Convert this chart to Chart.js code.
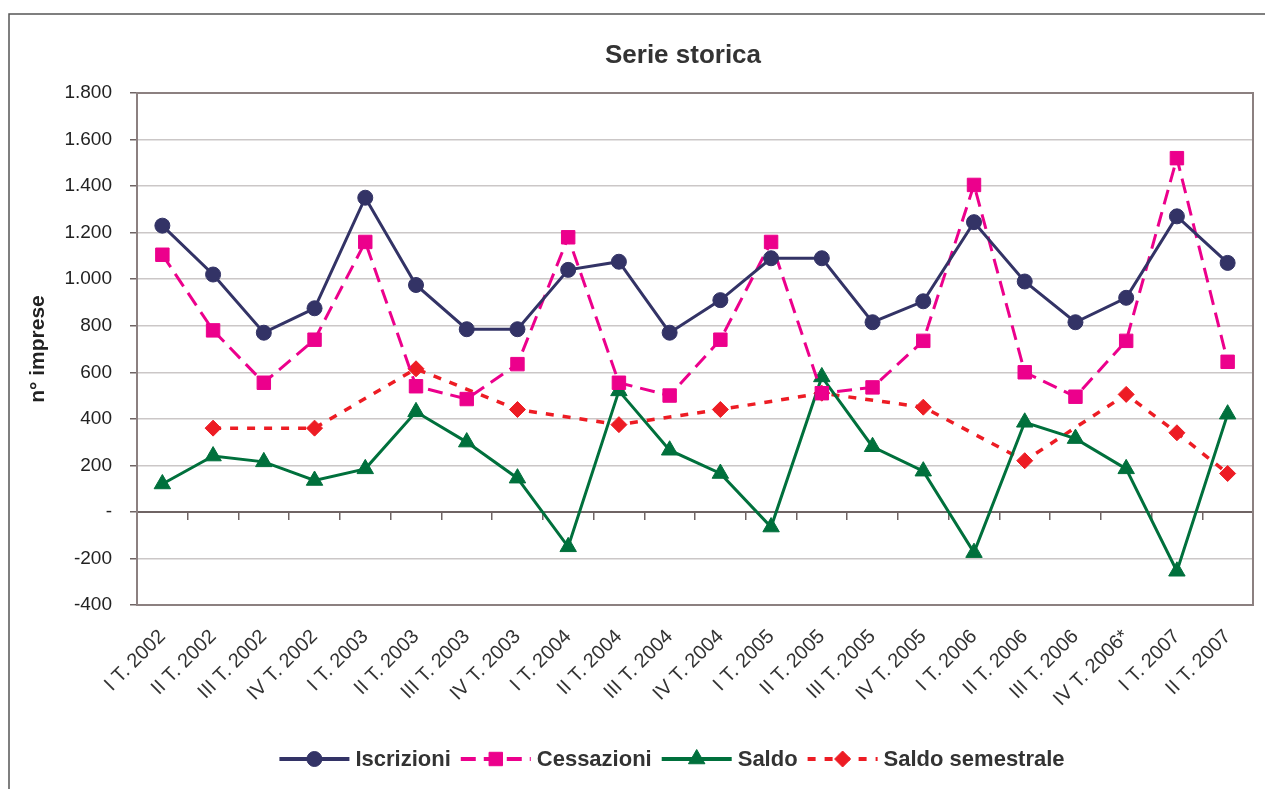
<!DOCTYPE html>
<html>
<head>
<meta charset="utf-8">
<title>Serie storica</title>
<script src="https://cdn.jsdelivr.net/npm/chart.js@4.4.1/dist/chart.umd.min.js"></script>
<style>
  html, body { margin: 0; padding: 0; background: #fff; }
  canvas { display: block; }
</style>
</head>
<body>
<canvas id="serieChart" width="1265" height="789"></canvas>
<script>
const categories = [
  "I T. 2002", "II T. 2002", "III T. 2002", "IV T. 2002",
  "I T. 2003", "II T. 2003", "III T. 2003", "IV T. 2003",
  "I T. 2004", "II T. 2004", "III T. 2004", "IV T. 2004",
  "I T. 2005", "II T. 2005", "III T. 2005", "IV T. 2005",
  "I T. 2006", "II T. 2006", "III T. 2006", "IV T. 2006*",
  "I T. 2007", "II T. 2007"
];
const iscrizioni = [1230, 1020, 770, 875, 1350, 975, 785, 785, 1040, 1075, 770, 910, 1090, 1090, 815, 905, 1245, 990, 815, 920, 1270, 1070];
const cessazioni = [1105, 780, 555, 740, 1160, 540, 485, 635, 1180, 555, 500, 740, 1160, 510, 535, 735, 1405, 600, 495, 735, 1520, 645];
const saldo = [120, 240, 215, 135, 185, 430, 300, 145, -150, 520, 265, 165, -65, 580, 280, 175, -175, 385, 315, 185, -255, 420];
const saldoSemestrale = [null, 360, null, 360, null, 615, null, 440, null, 375, null, 440, null, 510, null, 450, null, 220, null, 505, 340, 165];
const yMin = -400;
const yMax = 1800;
const yStep = 200;

const FONT = "'Liberation Sans', Arial, Helvetica, sans-serif";
Chart.defaults.font.family = FONT;

function formatIt(v) {
  if (v === 0) return "-";
  const s = String(Math.abs(v)).replace(/\B(?=(\d{3})+(?!\d))/g, ".");
  return (v < 0 ? "-" : "") + s;
}

// frame, plot border, title and legend
const decorations = {
  id: "decorations",
  beforeDatasetsDraw(chart) {
    const { ctx, chartArea: a } = chart;
    ctx.save();
    ctx.strokeStyle = "#8c8080";
    ctx.lineWidth = 2;
    ctx.strokeRect(a.left, a.top, a.right - a.left, a.bottom - a.top);
    ctx.restore();
  },
  afterDraw(chart) {
    const ctx = chart.ctx;
    ctx.save();
    // outer frame
    ctx.strokeStyle = "#555";
    ctx.lineWidth = 1.5;
    ctx.beginPath();
    ctx.moveTo(9, 800);
    ctx.lineTo(9, 14);
    ctx.lineTo(1270, 14);
    ctx.stroke();

    // title
    ctx.fillStyle = "#333";
    ctx.font = "bold 26px " + FONT;
    ctx.textAlign = "center";
    ctx.textBaseline = "middle";
    ctx.fillText("Serie storica", 683, 56);

    // legend
    ctx.font = "bold 22px " + FONT;
    ctx.textAlign = "left";
    const lineLen = 70, gapText = 6, gapItem = 10, y = 759;
    const items = chart.data.datasets.map(ds => ({ ds, w: ctx.measureText(ds.label).width }));
    const total = items.reduce((s, it) => s + lineLen + gapText + it.w, 0) + gapItem * (items.length - 1);
    let x = 672 - total / 2;
    items.forEach(({ ds, w }) => {
      ctx.save();
      ctx.strokeStyle = ds.borderColor;
      ctx.lineWidth = 4;
      ctx.setLineDash(ds.borderDash || []);
      ctx.beginPath();
      ctx.moveTo(x, y);
      ctx.lineTo(x + lineLen, y);
      ctx.stroke();
      ctx.setLineDash([]);
      ctx.fillStyle = ds.backgroundColor;
      ctx.strokeStyle = ds.borderColor;
      ctx.lineWidth = 1;
      Chart.helpers.drawPoint(ctx, { pointStyle: ds.pointStyle, radius: ds.pointRadius, rotation: 0, borderWidth: 1 }, x + lineLen / 2, y);
      ctx.restore();
      ctx.fillStyle = "#333";
      ctx.fillText(ds.label, x + lineLen + gapText, y + 1);
      x += lineLen + gapText + w + gapItem;
    });
    ctx.restore();
  }
};

new Chart(document.getElementById("serieChart"), {
  type: "line",
  data: {
    labels: categories,
    datasets: [
      {
        label: "Iscrizioni",
        data: iscrizioni,
        borderColor: "#333366",
        backgroundColor: "#333366",
        borderWidth: 3,
        pointStyle: "circle",
        pointRadius: 7.5,
        pointBorderWidth: 1
      },
      {
        label: "Cessazioni",
        data: cessazioni,
        borderColor: "#ec008c",
        backgroundColor: "#ec008c",
        borderWidth: 3,
        borderDash: [15, 8],
        pointStyle: "rect",
        pointRadius: 9.5,
        pointBorderWidth: 1
      },
      {
        label: "Saldo",
        data: saldo,
        borderColor: "#00703c",
        backgroundColor: "#00703c",
        borderWidth: 3,
        pointStyle: "triangle",
        pointRadius: 9.5,
        pointBorderWidth: 1
      },
      {
        label: "Saldo semestrale",
        data: saldoSemestrale,
        borderColor: "#ed1c24",
        backgroundColor: "#ed1c24",
        borderWidth: 3.5,
        borderDash: [8, 9],
        pointStyle: "rectRot",
        pointRadius: 8,
        pointBorderWidth: 1,
        spanGaps: true
      }
    ]
  },
  options: {
    responsive: false,
    animation: false,
    layout: { padding: { left: 20, top: 93, right: 12, bottom: 0 } },
    elements: { line: { tension: 0 } },
    plugins: {
      legend: { display: false },
      title: { display: false },
      tooltip: { enabled: false }
    },
    scales: {
      x: {
        offset: true,
        grid: { display: false },
        border: { display: false },
        ticks: {
          color: "#333",
          font: { size: 20 },
          minRotation: 45,
          maxRotation: 45,
          autoSkip: false,
          padding: 12
        },
        afterFit(s) { s.height = 184; }
      },
      x2: {
        type: "category",
        position: { y: 0 },
        offset: true,
        ticks: { display: false },
        grid: { drawOnChartArea: false, offset: true, tickLength: 7, color: "#6f6464", lineWidth: 1.5 },
        border: { color: "#6f6464", width: 2 }
      },
      y: {
        min: yMin,
        max: yMax,
        ticks: {
          stepSize: yStep,
          color: "#222",
          font: { size: 19 },
          padding: 18,
          callback: v => formatIt(v)
        },
        grid: { color: "#cbc7c7", lineWidth: 1.5, tickLength: 7, tickColor: "#6f6464" },
        border: { color: "#8c8080", width: 2 },
        title: {
          display: true,
          text: "n° imprese",
          color: "#222",
          font: { size: 21, weight: "bold" },
          padding: { top: 6, bottom: 0 }
        },
        afterFit(s) { s.width = 117; }
      }
    }
  },
  plugins: [decorations]
});
</script>
</body>
</html>
